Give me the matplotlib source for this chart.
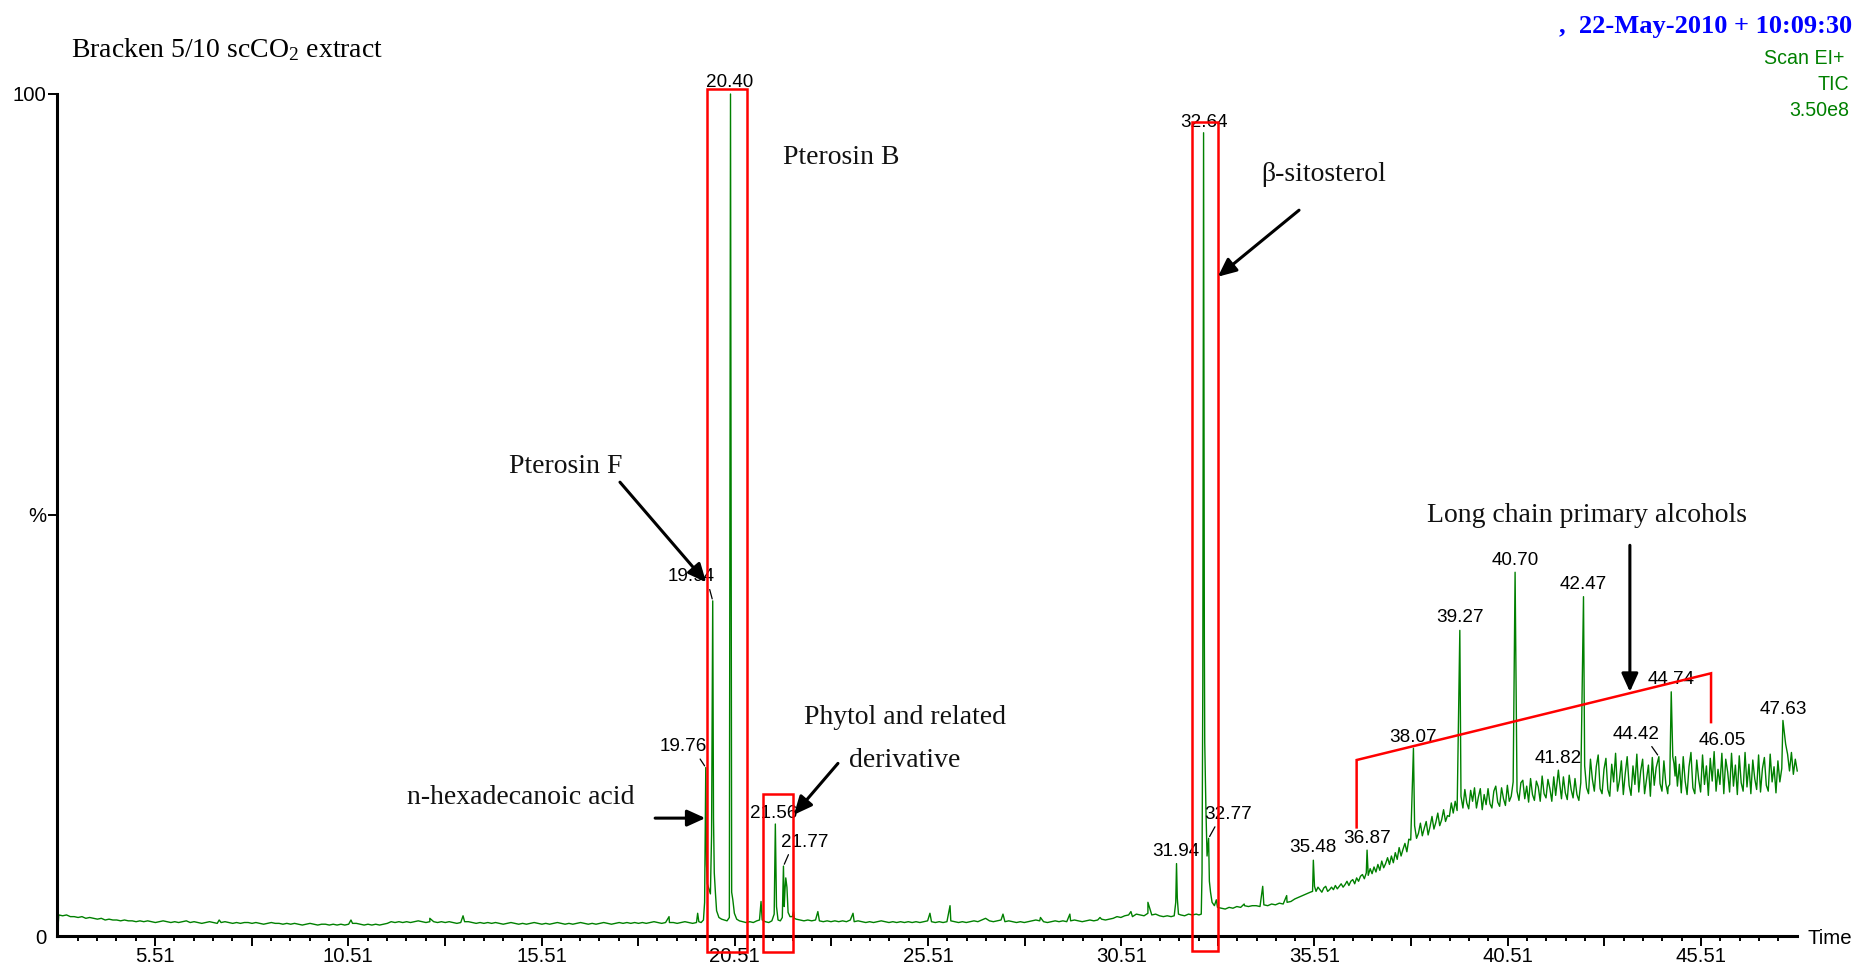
import numpy as np
import matplotlib
matplotlib.use("Agg")
import matplotlib.pyplot as plt
from matplotlib import font_manager
from matplotlib.patches import Rectangle
from matplotlib.ticker import FixedLocator

# ---------------------------------------------------------------
# TIC chromatogram, Bracken 5/10 scCO2 extract (% of 3.50e8)
# ---------------------------------------------------------------
# Baseline read on regular time grids (start, step, values)
early_base_start, early_base_step = 3.02, 0.1
early_base = [
    2.5, 2.4, 2.5, 2.3, 2.3, 2.2, 2.3, 2.1, 2.2, 2.1,
    2.0, 2.1, 1.9, 2.0, 1.9, 1.9, 1.8, 1.9, 1.8, 1.8,
    1.7, 1.8, 1.7, 1.8, 1.7, 1.6, 1.7, 1.8, 1.7, 1.6,
    1.7, 1.6, 1.7, 1.8, 1.6, 1.7, 1.6, 1.5, 1.6, 1.7,
    1.6, 1.5, 1.6, 1.7, 1.6, 1.5, 1.6, 1.5, 1.6, 1.6,
    1.5, 1.6, 1.5, 1.4, 1.5, 1.6, 1.5, 1.5, 1.4, 1.5,
    1.4, 1.5, 1.4, 1.3, 1.4, 1.5, 1.4, 1.3, 1.4, 1.4,
    1.3, 1.4, 1.3, 1.4, 1.3, 1.4, 1.5, 1.5, 1.4, 1.3,
    1.4, 1.3, 1.4, 1.3, 1.4, 1.5, 1.7, 1.6, 1.7, 1.6,
    1.7, 1.6, 1.7, 1.8, 1.7, 1.6, 1.7, 1.7, 1.6, 1.7,
    1.6, 1.7, 1.6, 1.5, 1.6, 1.7, 1.7, 1.6, 1.5, 1.6,
    1.5, 1.6, 1.5, 1.6, 1.5, 1.4, 1.5, 1.6, 1.5, 1.4,
    1.5, 1.4, 1.5, 1.6, 1.5, 1.4, 1.5, 1.4, 1.5, 1.6,
    1.5, 1.4, 1.5, 1.4, 1.5, 1.6, 1.5, 1.4, 1.5, 1.4,
    1.5, 1.6, 1.5, 1.4, 1.5, 1.6, 1.5, 1.6, 1.5, 1.6,
    1.5, 1.6, 1.5, 1.6, 1.7, 1.6, 1.5, 1.6, 1.6, 1.6,
    1.5, 1.6, 1.7, 1.6, 1.5, 1.6,
]

mid_base_start, mid_base_step = 22.1, 0.1
mid_base = [
    2.0, 1.9, 1.8, 1.9, 1.8, 1.9, 1.8, 1.7, 1.8,
    1.7, 1.8, 1.7, 1.8, 1.7, 1.9, 1.7, 1.8, 1.7, 1.6,
    1.7, 1.6, 1.7, 1.8, 1.7, 1.6, 1.7, 1.6, 1.7, 1.6,
    1.7, 1.6, 1.7, 1.6, 1.7, 1.8, 1.7, 1.6, 1.7, 1.6,
    1.7, 1.8, 1.7, 1.6, 1.7, 1.6, 1.7, 1.8, 1.7, 1.9,
    2.1, 1.8, 1.7, 1.8, 1.9, 1.7, 1.8, 1.7, 1.6, 1.7,
    1.6, 1.7, 1.8, 1.9, 1.8, 1.7, 1.6, 1.7, 1.8, 1.7,
    1.8, 1.7, 1.8, 1.9, 1.8, 1.7, 1.8, 1.9, 1.8, 1.9,
    2.0, 1.9, 2.0, 2.1, 2.3, 2.2, 2.4, 2.5, 2.3, 2.6,
    2.5, 2.4, 2.7, 2.5, 2.6, 2.4, 2.3, 2.4, 2.3, 2.4,
    2.5, 2.4, 2.5, 2.6, 2.5, 2.6, 2.6, 4.0, 3.8, 3.4,
    3.4, 3.3, 3.2, 3.4, 3.3, 3.5, 3.4, 3.6, 3.5, 3.6,
    3.6, 3.5, 3.7, 3.6, 3.8, 3.7, 3.9, 3.8, 4.0, 4.1,
    4.4, 4.6, 4.8, 5.0, 5.2,
]

late_base_start, late_base_step = 35.5, 0.05
late_base = [
    5.6, 5.3, 5.8, 5.5, 5.2, 5.7, 5.9, 5.3, 5.5, 5.8,
    5.5, 6.0, 5.6, 5.9, 6.2, 5.8, 6.1, 6.5, 6.0, 6.5,
    6.7, 6.2, 6.9, 6.5, 7.1, 7.3, 6.8, 7.6, 7.2, 8.0,
    7.4, 8.2, 7.6, 8.5, 7.8, 8.9, 8.1, 8.6, 9.3, 8.5,
    9.5, 8.7, 9.9, 9.1, 10.5, 9.5, 10.3, 11.0, 10.0, 11.5,
    11.4, 12.4, 13.1, 11.6, 12.2, 13.4, 11.9, 12.8, 13.6, 12.0,
    13.0, 14.2, 12.7, 13.5, 14.6, 13.1, 13.8, 15.0, 13.6, 14.3,
    14.2, 15.8, 14.6, 16.0, 14.9, 15.6, 16.6, 15.2, 17.4, 15.8,
    15.1, 17.3, 16.0, 17.6, 15.2, 16.5, 17.5, 15.0, 16.8, 15.6,
    17.5, 15.7, 15.2, 17.2, 17.8, 15.9, 15.4, 17.6, 16.3, 15.5,
    17.9, 16.0, 16.6, 18.3, 16.2, 17.2, 16.1, 18.2, 18.5, 16.3,
    17.8, 15.9, 18.7, 16.8, 16.1, 18.4, 17.7, 16.0, 19.0, 16.9,
    16.4, 18.6, 17.5, 16.0, 18.9, 16.7, 17.3, 18.3, 16.3, 18.9,
    17.0, 16.2, 19.1, 17.4, 16.4, 18.7, 16.8, 16.1, 18.2, 17.4,
    20.2, 17.6, 16.9, 21.0, 18.6, 17.2, 20.1, 21.5, 17.5, 16.9,
    19.8, 21.1, 17.4, 16.6, 20.4, 18.3, 21.7, 17.2, 18.5, 20.8,
    16.8, 19.3, 21.3, 17.9, 16.7, 20.2, 18.0, 21.6, 17.1, 19.6,
    21.0, 16.9, 18.6, 20.3, 16.6, 21.2, 17.9, 20.0, 18.0, 18.1,
    17.2, 20.8, 18.1, 16.9, 18.0, 18.0, 20.5, 21.3, 17.8, 20.4,
    17.0, 21.3, 18.4, 16.8, 20.1, 21.8, 17.6, 16.9, 20.9, 18.6,
    17.1, 21.5, 18.0, 20.2, 16.7, 21.1, 18.4, 21.9, 17.2, 19.8,
    18.0, 19.0, 16.9, 21.0, 19.5, 17.1, 21.7, 17.8, 20.3, 16.8,
    21.4, 18.2, 17.2, 21.8, 17.7, 20.4, 16.9, 20.9, 18.7, 17.4,
    21.5, 17.1, 19.9, 21.2, 17.9, 17.2, 21.6, 18.3, 20.1, 17.0,
    20.8, 18.3, 19.9, 20.0, 22.8, 21.6, 19.6, 21.8, 19.2, 21.0,
    19.6,
]

# Detailed profiles around the crowded peak groups
trace_start_t = [2.99]
trace_start_pct = [0.3]

pterosin_t = [19.55, 19.58, 19.64, 19.70, 19.73, 19.78, 19.80, 19.84, 19.88, 19.91,
              19.96, 19.98, 20.01, 20.04, 20.10, 20.17, 20.24, 20.31, 20.37, 20.43,
              20.46, 20.50, 20.56, 20.63, 20.71, 20.80, 20.90, 20.99, 21.08, 21.15,
              21.19, 21.22, 21.30, 21.39, 21.47, 21.53, 21.59, 21.63, 21.69, 21.74,
              21.79, 21.81, 21.83, 21.86, 21.89, 21.94, 22.00, 22.03, 22.05]
pterosin_pct = [2.7, 1.7, 1.6, 1.9, 4.0, 8.5, 6.2, 5.6, 5.0, 12.0,
                14.0, 7.5, 5.1, 3.0, 2.2, 2.0, 1.9, 1.8, 2.2, 5.2,
                4.3, 2.7, 2.0, 1.8, 1.7, 1.6, 1.7, 1.6, 1.8, 1.9,
                4.1, 1.9, 1.7, 1.6, 1.8, 2.6, 3.5, 1.9, 1.8, 2.2,
                3.5, 5.5, 6.9, 5.8, 2.8, 2.3, 2.3, 2.9, 2.1]

sterol_t = [31.88, 31.92, 31.96, 31.99, 32.05, 32.15, 32.25, 32.35, 32.45, 32.52,
            32.58, 32.60, 32.62, 32.66, 32.67, 32.70, 32.73, 32.75, 32.79, 32.82,
            32.86, 32.92, 32.97]
sterol_pct = [2.4, 4.0, 4.5, 2.6, 2.5, 2.4, 2.6, 2.5, 2.6, 2.5,
              2.6, 7.5, 30.0, 35.0, 23.0, 15.2, 9.5, 10.5, 6.5, 5.2,
              4.0, 3.6, 4.3]

alcohol_t = [44.66, 44.70, 44.72, 44.76, 44.78, 44.81, 44.84]
alcohol_pct = [17.7, 18.0, 23.5, 25.0, 21.3, 20.5, 19.0]

# Small unlabelled spikes and peak feet
extra_t = [7.17, 10.58, 12.62, 13.48, 18.81, 22.66, 23.57, 25.56, 26.08, 27.45,
           28.42, 29.18, 29.96, 30.76, 31.20, 33.69, 34.17, 34.79, 35.46, 35.51,
           36.85]
extra_pct = [1.9, 1.9, 2.1, 2.4, 2.3, 2.9, 2.7, 2.7, 3.6, 2.6,
             2.2, 2.6, 2.2, 2.9, 4.0, 3.8, 5.9, 4.8, 5.3, 5.9,
             7.5]

# Labelled peaks: retention time (min) and relative abundance (%)
peak_rt = [19.76, 19.94, 20.40, 21.56, 21.77, 31.94, 32.64, 32.77, 35.48, 36.87,
           38.07, 39.27, 40.70, 41.82, 42.47, 44.42, 44.74, 46.05, 47.63]
peak_pct = [20.0, 39.8, 100.0, 13.3, 8.3, 8.6, 95.4, 11.6, 9.0, 10.2,
            22.3, 36.3, 43.2, 19.7, 40.3, 21.3, 29.0, 21.7, 25.6]

xtick_labels = ["5.51", "10.51", "15.51", "20.51", "25.51",
                "30.51", "35.51", "40.51", "45.51"]
ytick_values = [0, 50, 100]
ytick_labels = ["0", "%", "100"]

# ---------------------------------------------------------------
# Fonts
# ---------------------------------------------------------------
_names = {f.name for f in font_manager.fontManager.ttflist}
if "Liberation Sans Narrow" in _names:
    SANS, fs_k = "Liberation Sans Narrow", 1.0
else:
    SANS, fs_k = "Liberation Sans", 0.89
SERIF = "Liberation Serif"
plt.rcParams["font.family"] = [SANS, "DejaVu Sans"]
plt.rcParams["mathtext.fontset"] = "custom"
plt.rcParams["mathtext.rm"] = SERIF

FS_TICK = 16.5 * fs_k
FS_PEAK = 15.3 * fs_k
FS_INFO = 15.9 * fs_k
FS_NOTE = 20

GREEN = "#008000"

# ---------------------------------------------------------------
# Assemble the trace
# ---------------------------------------------------------------
def grid(start, step, vals):
    vals = np.asarray(vals, float)
    return np.round(start + step * np.arange(len(vals)), 3), vals

grids = [grid(early_base_start, early_base_step, early_base),
         grid(mid_base_start, mid_base_step, mid_base),
         grid(late_base_start, late_base_step, late_base)]
bt = np.concatenate([g[0] for g in grids])
by = np.concatenate([g[1] for g in grids])

keep = np.ones(bt.shape, bool)
for rt in peak_rt:
    keep &= np.abs(bt - rt) > 0.024
for dt in (pterosin_t, sterol_t, alcohol_t):
    keep &= ~((bt >= min(dt)) & (bt <= max(dt)))

t_all = np.concatenate([trace_start_t, bt[keep], pterosin_t, sterol_t,
                        alcohol_t, extra_t, peak_rt])
y_all = np.concatenate([trace_start_pct, by[keep], pterosin_pct, sterol_pct,
                        alcohol_pct, extra_pct, peak_pct])
order = np.argsort(t_all, kind="stable")
t_all, y_all = t_all[order], y_all[order]

# ---------------------------------------------------------------
# Figure
# ---------------------------------------------------------------
W, H = 1852, 971
fig = plt.figure(figsize=(W / 100, H / 100), dpi=100)
fig.patch.set_facecolor("white")
ax = fig.add_axes([57 / W, 1 - 936 / H, (1797 - 57) / W, (936 - 94) / H])

ax.plot(t_all, y_all, color=GREEN, lw=1.0, clip_on=False, zorder=2)
ax.set_xlim(2.974, 47.994)
ax.set_ylim(0, 100)

for side in ("top", "right"):
    ax.spines[side].set_visible(False)
for side in ("left", "bottom"):
    ax.spines[side].set_linewidth(2.2)
    ax.spines[side].set_capstyle("projecting")

# x axis: labelled every 5 min, long ticks every 2.5 min, short every 0.5 min
label_pos = [float(s) for s in xtick_labels]
major_pos = sorted(label_pos + [p + 2.5 for p in label_pos if p + 2.5 < 48])
ax.xaxis.set_major_locator(FixedLocator(major_pos))
ax.set_xticklabels([s if float(s) in label_pos else ""
                    for s in [f"{p:.2f}" for p in major_pos]])
ax.xaxis.set_minor_locator(FixedLocator(np.arange(3.51, 48, 0.5)))
ax.tick_params(axis="x", which="major", length=7.2, width=1.4, pad=1,
               labelsize=FS_TICK, direction="out")
ax.tick_params(axis="x", which="minor", length=3.6, width=1.4, direction="out")

ax.set_yticks(ytick_values)
ax.set_yticklabels(ytick_labels)
ax.tick_params(axis="y", length=6.5, width=1.4, pad=1, labelsize=FS_TICK)
ax.yaxis.get_major_ticks()[0].tick1line.set_visible(False)

fig.text(1807 / W, 1 - 938 / H, "Time", ha="left", va="center",
         fontsize=FS_TICK, family=SANS)

# Peak retention-time labels (offsets in pixels from the apex)
label_offsets = {
    19.76: (-22, -21, (0.79, 0.0)), 19.94: (-22, -24, (0.88, 0.0)),
    20.40: (-1, -11, None), 21.56: (-2, -11, None),
    21.77: (21, -24, (0.2, 0.0)), 31.94: (-1, -12, None),
    32.64: (0, -10, None), 32.77: (20, -24, (0.26, 0.0)),
    35.48: (0, -12.5, None), 36.87: (0, -12, None), 38.07: (0, -10.5, None),
    39.27: (0, -12.5, None), 40.70: (0, -12, None), 41.82: (0, -12, None),
    42.47: (0, -12, None), 44.42: (-23, -22.5, (0.78, 0.0)),
    44.74: (0, -12, None), 46.05: (0, -12.5, None), 47.63: (0, -10.5, None),
}
for rt, pct in zip(peak_rt, peak_pct):
    dx, dy, rel = label_offsets[rt]
    kw = {}
    if rel is not None:
        kw["arrowprops"] = dict(arrowstyle="-", lw=0.9, color="black",
                                shrinkA=1, shrinkB=1.5, relpos=rel)
    ax.annotate(f"{rt:.2f}", xy=(rt, pct), xytext=(dx * 0.72, -dy * 0.72),
                textcoords="offset points", ha="center", va="center",
                fontsize=FS_PEAK, family=SANS, annotation_clip=False,
                zorder=3, **kw)

# Highlight boxes and bracket
boxes = [(19.79, -1.9, 20.82, 100.6),
         (21.24, -1.9, 22.02, 16.9),
         (32.34, -1.8, 33.01, 96.7)]
for x0, y0, x1, y1 in boxes:
    ax.add_patch(Rectangle((x0, y0), x1 - x0, y1 - y0, fill=False,
                           ec="#ff0000", lw=1.8, clip_on=False, zorder=4))
bracket_t = [36.60, 36.60, 45.77, 45.77]
bracket_pct = [12.9, 20.9, 31.2, 25.4]
ax.plot(bracket_t, bracket_pct, color="#ff0000", lw=1.8, clip_on=False,
        zorder=4, solid_joinstyle="miter")

# Compound annotations
notes = [
    ("Pterosin B", 21.76, 92.5, "left"),
    ("\u03b2-sitosterol", 34.13, 90.4, "left"),
    ("Pterosin F", 14.67, 55.8, "left"),
    ("Phytol and related", 24.91, 25.9, "center"),
    ("derivative", 24.91, 20.8, "center"),
    ("n-hexadecanoic acid", 12.03, 16.4, "left"),
    ("Long chain primary alcohols", 42.56, 49.9, "center"),
]
for txt, x, y, ha in notes:
    ax.text(x, y, txt, ha=ha, va="center", fontsize=FS_NOTE, family=SERIF,
            color="#111111", zorder=5)

arrows = [((17.54, 53.9), (19.77, 42.0)),
          ((18.45, 14.0), (19.75, 14.0)),
          ((23.18, 20.5), (22.04, 14.4)),
          ((35.11, 86.2), (33.01, 78.3)),
          ((43.67, 46.4), (43.67, 29.0))]
for start, tip in arrows:
    ax.annotate("", xy=tip, xytext=start, annotation_clip=False, zorder=6,
                arrowprops=dict(arrowstyle="-|>,head_length=0.55,head_width=0.25",
                                lw=2.2, color="black", shrinkA=0, shrinkB=0,
                                mutation_scale=20))

# Header texts
fig.text(71 / W, 1 - 49.5 / H, "Bracken 5/10 scCO$\\mathregular{_2}$ extract",
         ha="left", va="center", fontsize=FS_NOTE, family=SERIF)
fig.text(1.0, 1 - 26.5 / H, ",  22-May-2010 + 10:09:30", ha="right", va="center",
         fontsize=19, family=SERIF, fontweight="bold", color="#0000ff")
for txt, xr, yc in (("Scan EI+", 1844, 59), ("TIC", 1849, 84), ("3.50e8", 1849, 110)):
    fig.text(xr / W, 1 - yc / H, txt, ha="right", va="center",
             fontsize=FS_INFO, family=SANS, color=GREEN)

fig.savefig("out.png", dpi=100, facecolor="white")
